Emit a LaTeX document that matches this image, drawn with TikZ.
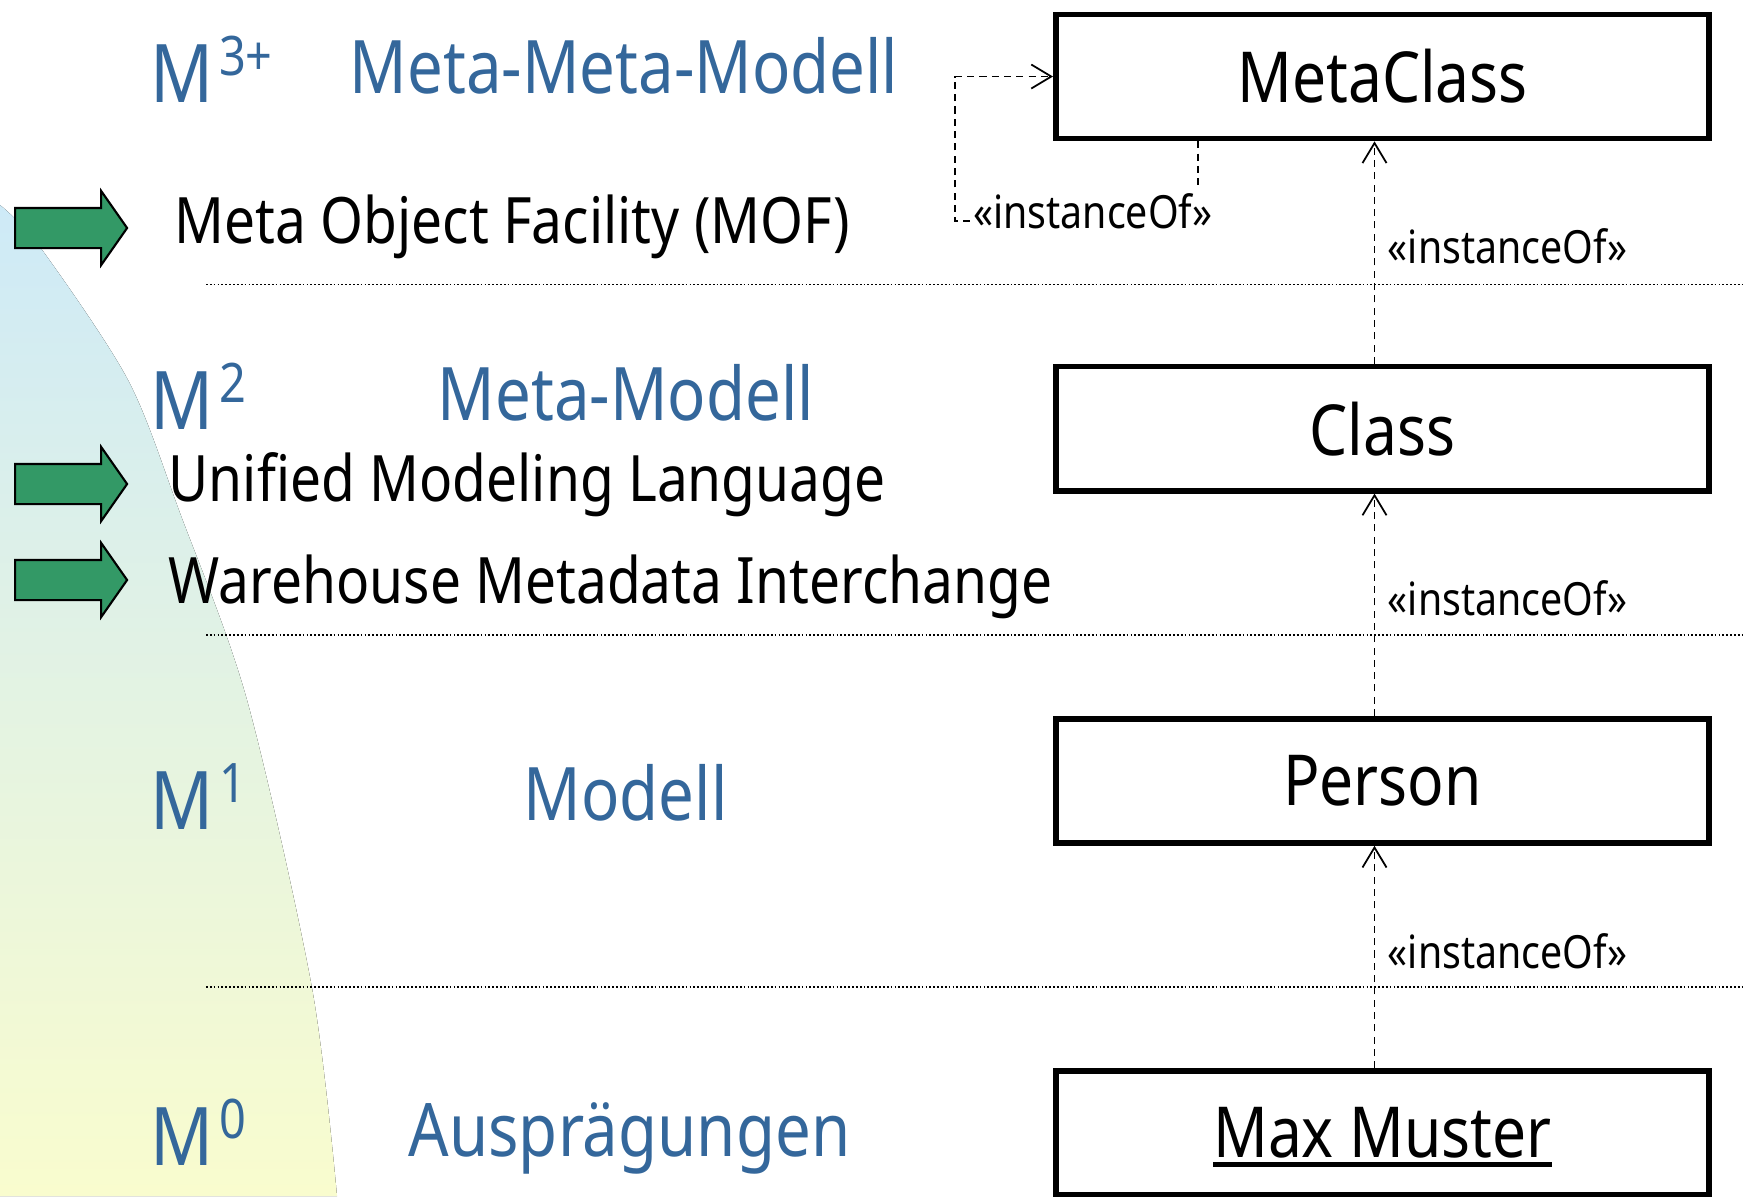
\documentclass[tikz,border=0pt]{standalone}
\usepackage{fontspec}
\setmainfont{Noto Sans}[FakeStretch=0.86]
\usepackage{tikz}
\usetikzlibrary{arrows.meta,positioning,shapes.arrows}
\definecolor{mblue}{RGB}{52,103,155}
\definecolor{mgreen}{RGB}{51,153,102}
\definecolor{bgtop}{RGB}{206,234,247}
\definecolor{bgbot}{RGB}{249,252,206}
\newcommand{\lvl}[1]{M\kern1.5pt\raisebox{7.6pt}{\fontsize{15.5}{15.5}\selectfont #1}}
\newcommand{\objul}[1]{\setbox0\hbox{#1}\rlap{\smash{\rule[-2.6pt]{\wd0}{1.3pt}}}\box0}
\tikzset{%
	classbox/.style  = {draw, rectangle, line width=1.6pt, minimum width=6.53cm, minimum height=1.24cm, inner sep=0, font=\fontsize{20}{24}\selectfont},
	mlevel/.style    = {anchor=base west, inner sep=0, text=mblue, font=\fontsize{23}{27}\selectfont}, % M^n
	layername/.style = {anchor=base west, inner sep=0, text=mblue, font=\fontsize{21}{25}\selectfont},
	standard/.style  = {anchor=base west, inner sep=0, font=\fontsize{18.2}{22}\selectfont},
	pointer/.style   = {single arrow, draw, fill=mgreen, line width=0.6pt, minimum height=1.12cm, single arrow head extend=0.17cm, single arrow tip angle=110, inner xsep=0, inner ysep=0.19cm, anchor=tail},
	stereo/.style    = {inner sep=0, font=\fontsize{13}{15}\selectfont},
	instof/.style    = {line width=0.5pt, dash pattern={on 2pt off 1.5pt}, -{Straight Barb[length=0.2cm,width=0.24cm]}},
	layerline/.style = {line width=0.5pt, dash pattern={on 0.5pt off 0.6pt}},
}
\begin{document}
\begin{tikzpicture}[x=0.01cm,y=-0.01cm,node distance=3.52cm]
	\useasboundingbox (0,0) rectangle (1743,1196);
	\fill[top color=bgtop, bottom color=bgbot] (0,1196) -- (0,205) -- plot[smooth] coordinates {(0,205) (40,247) (128,380) (180,513) (247,700) (312,988) (337,1196)} -- cycle;
	
	\draw[layerline] (206,284.6) -- (1743,284.6);
	\draw[layerline] (206,635) -- (1743,635);
	\draw[layerline] (206,987) -- (1743,987);
	
	\node [classbox] (mc) at (1382.5,76.5) {MetaClass};
	\node [classbox] (cls) [below of=mc] {Class};
	\node [classbox] (pers) [below of=cls] {Person};
	\node [classbox] (maxm) [below of=pers] {\objul{Max Muster}};
	
	\node [mlevel] (m3) at (150,102) {\lvl{3+}};
	\node [layername] (mmm) at (349,93) {Meta-Meta-Modell};
	\node [standard] (mof) at (174,243) {Meta Object Facility (MOF)};
	\node [mlevel] (m2) at (150,429) {\lvl{2}};
	\node [layername] (mm) at (437,420) {Meta-Modell};
	\node [standard] (uml) at (168,501) {Unified Modeling Language};
	\node [standard] (cwm) at (168,603) {Warehouse Metadata Interchange};
	\node [mlevel] (m1) at (150,829) {\lvl{1}};
	\node [layername] (mod) at (523,820) {Modell};
	\node [mlevel] (m0) at (150,1165) {\lvl{0}};
	\node [layername] (ausp) at (408,1156) {Ausprägungen};
	
	\node [pointer] (arr1) at (14,228) {};
	\node [pointer] (arr2) at (14,484) {};
	\node [pointer] (arr3) at (14,580) {};
	
	\draw[instof] ([xshift=-0.08cm]cls.north) -- node[stereo,pos=0.45,anchor=base west,xshift=0.125cm] (io1) {«instanceOf»} ([xshift=-0.08cm]mc.south);
	\draw[instof] ([xshift=-0.08cm]pers.north) -- node[stereo,pos=0.45,anchor=base west,xshift=0.125cm] (io2) {«instanceOf»} ([xshift=-0.08cm]cls.south);
	\draw[instof] ([xshift=-0.08cm]maxm.north) -- node[stereo,pos=0.45,anchor=base west,xshift=0.125cm] (io3) {«instanceOf»} ([xshift=-0.08cm]pers.south);
	\draw[instof] ([xshift=-1.845cm]mc.south) -- ++(0,80) -| ([xshift=-0.98cm]mc.west) -- (mc.west);
	\node [stereo,fill=white,inner xsep=1pt,inner ysep=2pt,anchor=base west] (ioself) at (969,228) {«instanceOf»};
\end{tikzpicture}
\end{document}
